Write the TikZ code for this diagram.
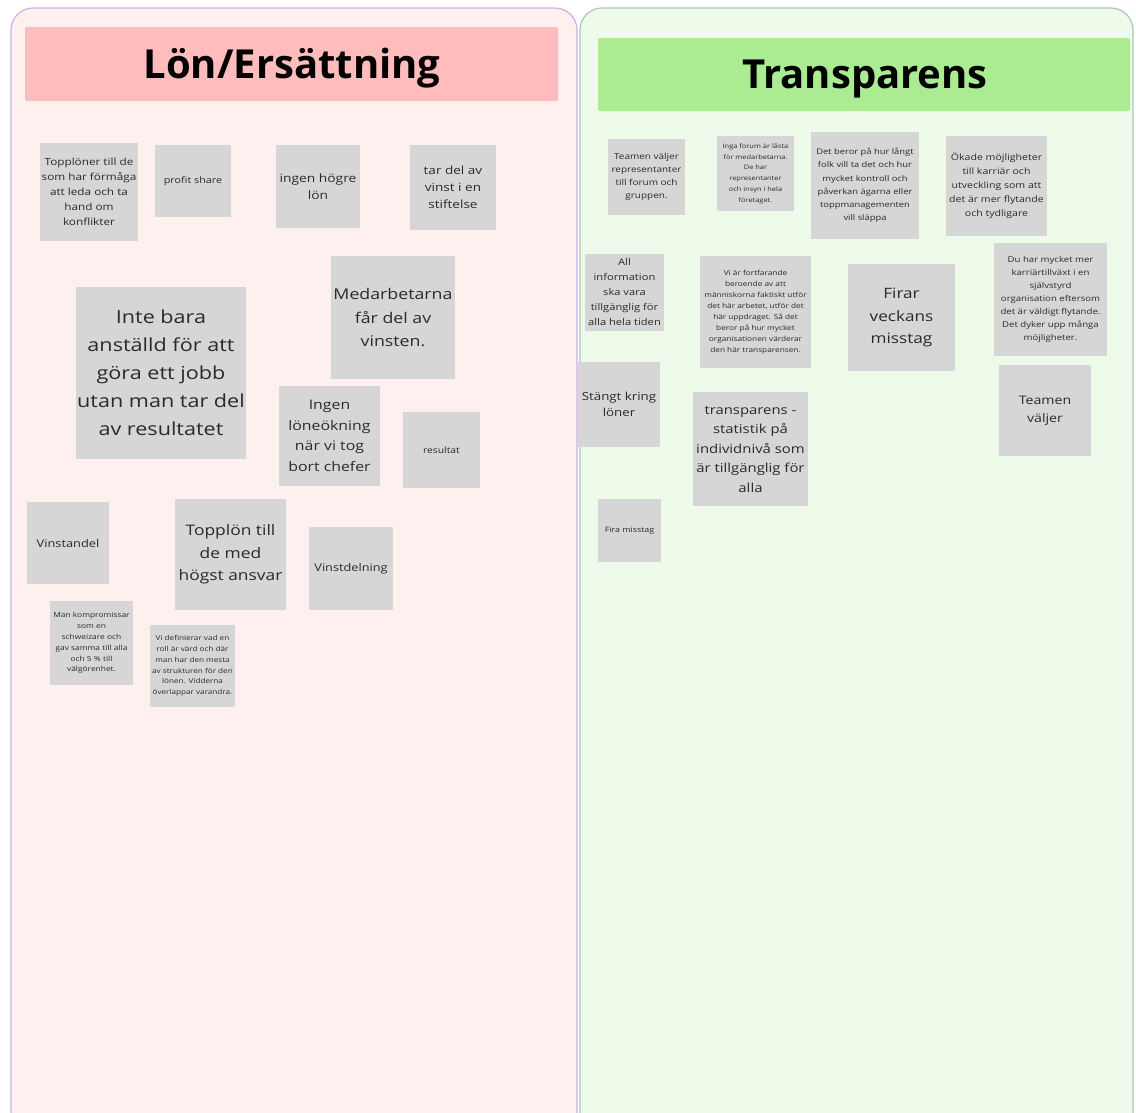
\documentclass[tikz,border=0pt]{standalone}
\usepackage{fontspec}
\setmainfont{Open Sans}
\newfontfamily\notefont[FakeStretch=1.2]{Open Sans}
\definecolor{lpanelfill}{HTML}{FDF0EF}
\definecolor{lpanelline}{HTML}{C9B3E6}
\definecolor{rpanelfill}{HTML}{EEFAEA}
\definecolor{rpanelline}{HTML}{A9C9B0}
\definecolor{lhead}{HTML}{FFBCBC}
\definecolor{rhead}{HTML}{ABEB92}
\definecolor{notegray}{HTML}{D6D6D6}
\definecolor{notetext}{HTML}{2A2A2A}
% sticky note: name, left, top, right, bottom, font size, line spacing, text
\newcommand\sticky[8]{%
  \node[note, minimum width={#4-#2}, minimum height={#5-#3},
        font=\notefont\fontsize{#6}{#7}\selectfont] (#1) at ({(#2+#4)/2},{(#3+#5)/2}) {#8};}
\begin{document}
\begin{tikzpicture}[x=1pt,y=-1pt,
  panel/.style={rounded corners=22pt, line width=1.2pt},
  header/.style={inner sep=0pt, font=\fontsize{40}{48}\selectfont\bfseries, text=black},
  note/.style={fill=notegray, inner sep=0pt, align=center, text=notetext}]
\useasboundingbox (0,0) rectangle (1136,1112);
\fill[white] (0,0) rectangle (1136,1112);

% the two columns
\draw[panel, draw=lpanelline, fill=lpanelfill] (11,8) rectangle (577,1135);
\draw[panel, draw=rpanelline, fill=rpanelfill] (580,8) rectangle (1133,1135);

% column headers
\fill[lhead, rounded corners=2pt] (25,27) rectangle (558,101);
\node[header] (lontitle) at (292,68) {Lön/Ersättning};
\fill[rhead, rounded corners=2pt] (598,38) rectangle (1130,111);
\node[header] (transtitle) at (865,79) {Transparens};

% Lön/Ersättning notes
\sticky{l1}{40}{143}{138}{241}{9.8}{15}{Topplöner till de\\som har förmåga\\att leda och ta\\hand om\\konflikter}
\sticky{l2}{155}{145}{231}{217}{9}{10}{profit share}
\sticky{l3}{276}{145}{360}{228}{11.5}{17}{ingen högre\\lön}
\sticky{l4}{410}{145}{496}{230}{11.3}{17}{tar del av\\vinst i en\\stiftelse}
\sticky{l5}{76}{287}{246}{459}{18}{28}{Inte bara\\anställd för att\\göra ett jobb\\utan man tar del\\av resultatet}
\sticky{l6}{331}{256}{455}{379}{14.8}{23.5}{Medarbetarna\\får del av\\vinsten.}
\sticky{l7}{279}{386}{380}{486}{13.2}{20.5}{Ingen\\löneökning\\när vi tog\\bort chefer}
\sticky{l8}{403}{412}{480}{488}{8.6}{9}{resultat}
\sticky{l9}{27}{502}{109}{584}{10.7}{13}{Vinstandel}
\sticky{l10}{175}{499}{286}{610}{14.5}{22.5}{Topplön till\\de med\\högst ansvar}
\sticky{l11}{309}{527}{393}{610}{10.6}{13}{Vinstdelning}
\sticky{l12}{50}{601}{133}{685}{7}{10.8}{Man kompromissar\\som en\\schweizare och\\gav samma till alla\\och 5 \% till\\välgörenhet.}
\sticky{l13}{150}{625}{235}{707}{6.8}{10.8}{Vi definierar vad en\\roll är värd och där\\man har den mesta\\av strukturen för den\\lönen. Vidderna\\överlappar varandra.}

% Transparens notes
\sticky{r1}{608}{139}{685}{215}{8.3}{13}{Teamen väljer\\representanter\\till forum och\\gruppen.}
\sticky{r2}{717}{136}{794}{211}{6.2}{10.8}{Inga forum är låsta\\för medarbetarna.\\De har\\representanter\\och insyn i hela\\företaget.}
\sticky{r3}{811}{132}{919}{239}{7.8}{13.3}{Det beror på hur långt\\folk vill ta det och hur\\mycket kontroll och\\påverkan ägarna eller\\toppmanagementen\\vill släppa}
\sticky{r4}{946}{136}{1047}{236}{8.8}{14}{Ökade möjligheter\\till karriär och\\utveckling som att\\det är mer flytande\\och tydligare}
\sticky{r5}{585}{254}{664}{331}{9.3}{15}{All\\information\\ska vara\\tillgänglig för\\alla hela tiden}
\sticky{r6}{700}{256}{811}{368}{6.9}{11}{Vi är fortfarande\\beroende av att\\människorna faktiskt utför\\det här arbetet, utför det\\här uppdraget. Så det\\beror på hur mycket\\organisationen värderar\\den här transparensen.}
\sticky{r7}{848}{264}{955}{371}{14.3}{22.5}{Firar\\veckans\\misstag}
\sticky{r8}{994}{243}{1107}{356}{8}{13}{Du har mycket mer\\karriärtillväxt i en\\självstyrd\\organisation eftersom\\det är väldigt flytande.\\Det dyker upp många\\möjligheter.}
\sticky{r9}{578}{362}{660}{447}{11.1}{16.5}{Stängt kring\\löner}
\sticky{r10}{693}{392}{808}{506}{12.4}{19.5}{transparens -\\statistik på\\individnivå som\\är tillgänglig för\\alla}
\sticky{r11}{999}{365}{1091}{456}{11.8}{17.5}{Teamen\\väljer}
\sticky{r12}{598}{499}{661}{562}{7.4}{8}{Fira misstag}
\end{tikzpicture}
\end{document}
